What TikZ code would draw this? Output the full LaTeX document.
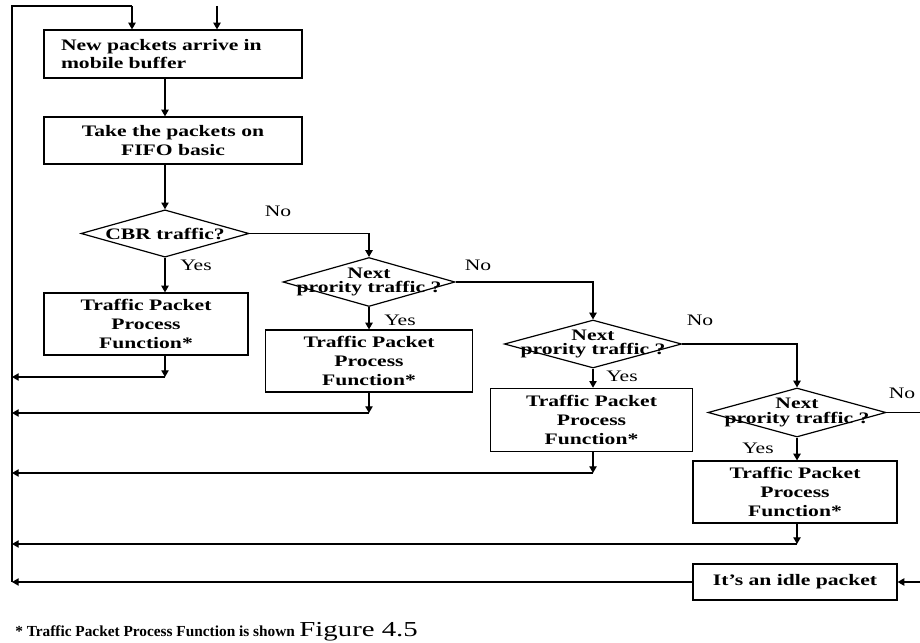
\documentclass[tikz,border=0pt]{standalone}
\usepackage{fontspec}
\setmainfont{Liberation Serif}[FakeStretch=1.35]
\newfontfamily\notefont{Liberation Serif}
\usetikzlibrary{arrows.meta,shapes.geometric}
\tikzset{
  wire/.style={line width=.9pt},
  flow/.style={wire,-{Triangle[length=5pt,width=5.5pt]}},
  stepbox/.style 2 args={draw,line width=.9pt,minimum width=#1,minimum height=#2,
    inner sep=2pt,align=center,font=\fontsize{12}{14}\selectfont\bfseries},
  decision/.style 2 args={draw,shape=diamond,line width=.9pt,minimum width=#1,
    minimum height=#2,inner sep=0pt},
  dtext/.style={align=center,inner sep=0pt,font=\fontsize{12}{11}\selectfont\bfseries},
  answer/.style={inner sep=0pt,font=\fontsize{12}{14}\selectfont}
}
\begin{document}
\begin{tikzpicture}[x=.75pt,y=-.75pt]
\useasboundingbox (0,0) rectangle (920,642);
% boxes and decisions
\node[stepbox={193.5pt}{36pt},align=left,text width=168pt] (b1) at (173,54) {New packets arrive in\\mobile buffer};
\node[stepbox={193.5pt}{35.25pt}] (b2) at (173,140.5) {Take the packets on\\FIFO basic};
\node[decision={126pt}{35.5pt}] (d1) at (165,233.5) {};
\node[dtext] (d1t) at (d1) {CBR traffic?};
\node[stepbox={153pt}{46.5pt}] (b3) at (146,324) {Traffic Packet\\Process\\Function*};
\node[decision={129pt}{36.75pt}] (d2) at (369,282) {};
\node[dtext] (d2t) at (d2) {Next\\prority traffic ?};
\node[stepbox={155pt}{46.5pt}] (b4) at (369,361) {Traffic Packet\\Process\\Function*};
\node[decision={133pt}{36pt}] (d3) at (593,344) {};
\node[dtext] (d3t) at (d3) {Next\\prority traffic ?};
\node[stepbox={152pt}{47.5pt}] (b5) at (591.5,420) {Traffic Packet\\Process\\Function*};
\node[decision={133.5pt}{36.75pt}] (d4) at (797,412.5) {};
\node[dtext] (d4t) at (d4) {Next\\prority traffic ?};
\node[stepbox={153pt}{46.5pt}] (b6) at (795,492) {Traffic Packet\\Process\\Function*};
\node[stepbox={153pt}{27pt}] (b7) at (795,582) {It's an idle packet};
% yes / no
\node[answer] (no1) at (278,211) {No};
\node[answer] (yes1) at (196,265) {Yes};
\node[answer] (no2) at (478,265) {No};
\node[answer] (yes2) at (400,320) {Yes};
\node[answer] (no3) at (700,320) {No};
\node[answer] (yes3) at (622,376) {Yes};
\node[answer] (no4) at (902,393) {No};
\node[answer] (yes4) at (758,448) {Yes};
% loop back line
\coordinate (sp0) at (12,6);
\coordinate (sp1) at (12,582);
\coordinate (in1) at (132,6);
\coordinate (in2) at (217,6);
\coordinate (edge) at (920,0);
\draw[wire] (in1) -- (sp0) -- (sp1);
\draw[flow] (in1) -- (in1 |- b1.north);
\draw[flow] (in2) -- (in2 |- b1.north);
\draw[flow] (d1.north |- b1.south) -- (d1.north |- b2.north);
\draw[flow] (d1.north |- b2.south) -- (d1.north);
\foreach \d/\b in {d1/b3,d2/b4,d3/b5,d4/b6}
  \draw[flow] (\d.south) -- (\d.south |- \b.north);
\foreach \a/\b in {d1/d2,d2/d3,d3/d4}
  \draw[flow] (\a.east) -| (\b.north);
\foreach \d/\b/\y in {d1/b3/377,d2/b4/413,d3/b5/473,d4/b6/544}{
  \coordinate (r\b) at (\d |- 0,\y);
  \draw[flow] (\d |- \b.south) -- (r\b);
  \draw[flow] (r\b) -- (r\b -| sp0);
}
\draw[wire] (d4.east) -- (d4.east -| edge);
\draw[flow] (b7.east -| edge) -- (b7.east);
\draw[flow] (b7.west) -- (b7.west -| sp0);
% footnote
\node[anchor=base west,inner sep=0pt] (note) at (15,636) {{\notefont\bfseries\fontsize{11.5}{14}\selectfont * Traffic Packet Process Function is shown} {\fontsize{16}{18}\selectfont Figure 4.5}};
\end{tikzpicture}
\end{document}
